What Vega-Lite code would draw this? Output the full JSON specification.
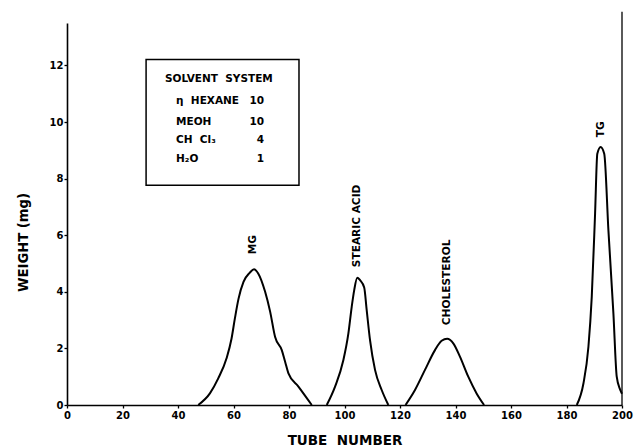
{
  "$schema": "https://vega.github.io/schema/vega-lite/v6.json",
  "width": 555,
  "height": 382,
  "autosize": {"type": "none"},
  "padding": {"left": 67, "top": 23, "right": 13, "bottom": 42},
  "background": "white",
  "config": {
    "view": {"stroke": null},
    "font": "DejaVu Sans",
    "axis": {
      "domainColor": "black",
      "domainWidth": 1.6,
      "tickColor": "black",
      "tickWidth": 1.3,
      "tickSize": 3,
      "labelColor": "black",
      "labelFont": "DejaVu Sans",
      "labelFontSize": 10,
      "labelFontWeight": "bold",
      "titleColor": "black",
      "titleFont": "DejaVu Sans",
      "titleFontWeight": "bold",
      "grid": false
    }
  },
  "datasets": {
    "curve": [
      {"peak": "MG", "x": 47.3, "y": 0},
      {"peak": "MG", "x": 51.5, "y": 0.41},
      {"peak": "MG", "x": 54.5, "y": 0.94},
      {"peak": "MG", "x": 57.5, "y": 1.65},
      {"peak": "MG", "x": 59.3, "y": 2.35},
      {"peak": "MG", "x": 60.5, "y": 3.06},
      {"peak": "MG", "x": 61.8, "y": 3.75},
      {"peak": "MG", "x": 63.6, "y": 4.35},
      {"peak": "MG", "x": 65.9, "y": 4.68},
      {"peak": "MG", "x": 67.4, "y": 4.8},
      {"peak": "MG", "x": 68.9, "y": 4.65},
      {"peak": "MG", "x": 71.4, "y": 4.0},
      {"peak": "MG", "x": 73.2, "y": 3.3},
      {"peak": "MG", "x": 75.0, "y": 2.4},
      {"peak": "MG", "x": 77.4, "y": 1.94},
      {"peak": "MG", "x": 78.6, "y": 1.53},
      {"peak": "MG", "x": 79.8, "y": 1.12},
      {"peak": "MG", "x": 83.4, "y": 0.65},
      {"peak": "MG", "x": 88.2, "y": 0},
      {"peak": "SA", "x": 93.6, "y": 0},
      {"peak": "SA", "x": 96.6, "y": 0.65},
      {"peak": "SA", "x": 99.6, "y": 1.59},
      {"peak": "SA", "x": 101.4, "y": 2.53},
      {"peak": "SA", "x": 102.6, "y": 3.47},
      {"peak": "SA", "x": 103.5, "y": 4.06},
      {"peak": "SA", "x": 104.6, "y": 4.5},
      {"peak": "SA", "x": 105.6, "y": 4.41},
      {"peak": "SA", "x": 107.1, "y": 4.15},
      {"peak": "SA", "x": 108.0, "y": 3.35},
      {"peak": "SA", "x": 109.2, "y": 2.29},
      {"peak": "SA", "x": 111.0, "y": 1.24},
      {"peak": "SA", "x": 113.4, "y": 0.53},
      {"peak": "SA", "x": 115.8, "y": 0},
      {"peak": "CH", "x": 122.0, "y": 0},
      {"peak": "CH", "x": 125.4, "y": 0.53},
      {"peak": "CH", "x": 129.0, "y": 1.24},
      {"peak": "CH", "x": 132.6, "y": 1.94},
      {"peak": "CH", "x": 135.0, "y": 2.27},
      {"peak": "CH", "x": 137.0, "y": 2.34},
      {"peak": "CH", "x": 139.2, "y": 2.18},
      {"peak": "CH", "x": 141.6, "y": 1.71},
      {"peak": "CH", "x": 144.6, "y": 1.0},
      {"peak": "CH", "x": 147.6, "y": 0.41},
      {"peak": "CH", "x": 150.3, "y": 0},
      {"peak": "TG", "x": 183.7, "y": 0},
      {"peak": "TG", "x": 186.1, "y": 0.76},
      {"peak": "TG", "x": 187.9, "y": 2.06},
      {"peak": "TG", "x": 189.1, "y": 3.82},
      {"peak": "TG", "x": 190.3, "y": 6.77},
      {"peak": "TG", "x": 191.1, "y": 8.88},
      {"peak": "TG", "x": 192.3, "y": 9.12},
      {"peak": "TG", "x": 193.6, "y": 8.88},
      {"peak": "TG", "x": 195.1, "y": 6.18},
      {"peak": "TG", "x": 196.9, "y": 3.24},
      {"peak": "TG", "x": 198.1, "y": 1.0},
      {"peak": "TG", "x": 199.3, "y": 0.55},
      {"peak": "TG", "x": 200.0, "y": 0.4}
    ],
    "peakLabels": [
      {"x": 67.0, "y": 5.33, "text": "MG"},
      {"x": 104.4, "y": 4.87, "text": "STEARIC ACID"},
      {"x": 136.8, "y": 2.82, "text": "CHOLESTEROL"},
      {"x": 192.4, "y": 9.46, "text": "TG"}
    ],
    "box": [{"x": 28.5, "xe": 83.6, "y": 12.21, "ye": 7.77}],
    "boxTitle": [{"x": 35.3, "y": 11.51, "text": "SOLVENT\u00a0 SYSTEM"}],
    "boxRows": [
      {"x": 39.3, "y": 10.73, "text": "η\u00a0 HEXANE", "ratio": "10"},
      {"x": 39.3, "y": 10.0, "text": "MEOH", "ratio": "10"},
      {"x": 39.3, "y": 9.35, "text": "CH\u00a0 Cl₃", "ratio": "4"},
      {"x": 39.3, "y": 8.68, "text": "H₂O", "ratio": "1"}
    ],
    "frame": [{"x": 200, "y": 0, "ye": 13.9}]
  },
  "layer": [
    {
      "data": {"name": "curve"},
      "mark": {"type": "line", "color": "black", "strokeWidth": 2, "interpolate": "monotone"},
      "encoding": {
        "x": {
          "field": "x", "type": "quantitative",
          "scale": {"domain": [0, 200], "nice": false},
          "axis": {
            "values": [0, 20, 40, 60, 80, 100, 120, 140, 160, 180, 200],
            "labelFlush": false,
            "labelOverlap": false,
            "labelPadding": 2,
            "title": "TUBE\u00a0 NUMBER",
            "titleFontSize": 13.5,
            "titleY": 35,
            "titleBaseline": "middle"
          }
        },
        "y": {
          "field": "y", "type": "quantitative",
          "scale": {"domain": [0, 13.5], "nice": false},
          "axis": {
            "values": [0, 2, 4, 6, 8, 10, 12],
            "labelPadding": 1,
            "title": "WEIGHT (mg)",
            "titleFontSize": 13.2,
            "titleAngle": 270,
            "titleX": -44,
            "titleY": 219,
            "titleAlign": "center",
            "titleBaseline": "middle"
          }
        },
        "detail": {"field": "peak"}
      }
    },
    {
      "data": {"name": "frame"},
      "mark": {"type": "rule", "color": "black", "strokeWidth": 1.3},
      "encoding": {
        "x": {"field": "x", "type": "quantitative"},
        "y": {"field": "y", "type": "quantitative"},
        "y2": {"field": "ye"}
      }
    },
    {
      "data": {"name": "box"},
      "mark": {"type": "rect", "fill": "white", "stroke": "black", "strokeWidth": 1.5},
      "encoding": {
        "x": {"field": "x", "type": "quantitative"},
        "x2": {"field": "xe"},
        "y": {"field": "y", "type": "quantitative"},
        "y2": {"field": "ye"}
      }
    },
    {
      "data": {"name": "peakLabels"},
      "mark": {"type": "text", "angle": 270, "align": "left", "baseline": "middle", "fontSize": 10.6, "fontWeight": "bold", "color": "black"},
      "encoding": {
        "x": {"field": "x", "type": "quantitative"},
        "y": {"field": "y", "type": "quantitative"},
        "text": {"field": "text"}
      }
    },
    {
      "data": {"name": "boxTitle"},
      "mark": {"type": "text", "align": "left", "baseline": "middle", "fontSize": 10.5, "fontWeight": "bold", "color": "black"},
      "encoding": {
        "x": {"field": "x", "type": "quantitative"},
        "y": {"field": "y", "type": "quantitative"},
        "text": {"field": "text"}
      }
    },
    {
      "data": {"name": "boxRows"},
      "mark": {"type": "text", "align": "left", "baseline": "middle", "fontSize": 10.5, "fontWeight": "bold", "color": "black"},
      "encoding": {
        "x": {"field": "x", "type": "quantitative"},
        "y": {"field": "y", "type": "quantitative"},
        "text": {"field": "text"}
      }
    },
    {
      "data": {"name": "boxRows"},
      "mark": {"type": "text", "align": "right", "baseline": "middle", "fontSize": 10.5, "fontWeight": "bold", "color": "black"},
      "encoding": {
        "x": {"datum": 71.0, "type": "quantitative"},
        "y": {"field": "y", "type": "quantitative"},
        "text": {"field": "ratio"}
      }
    }
  ]
}
